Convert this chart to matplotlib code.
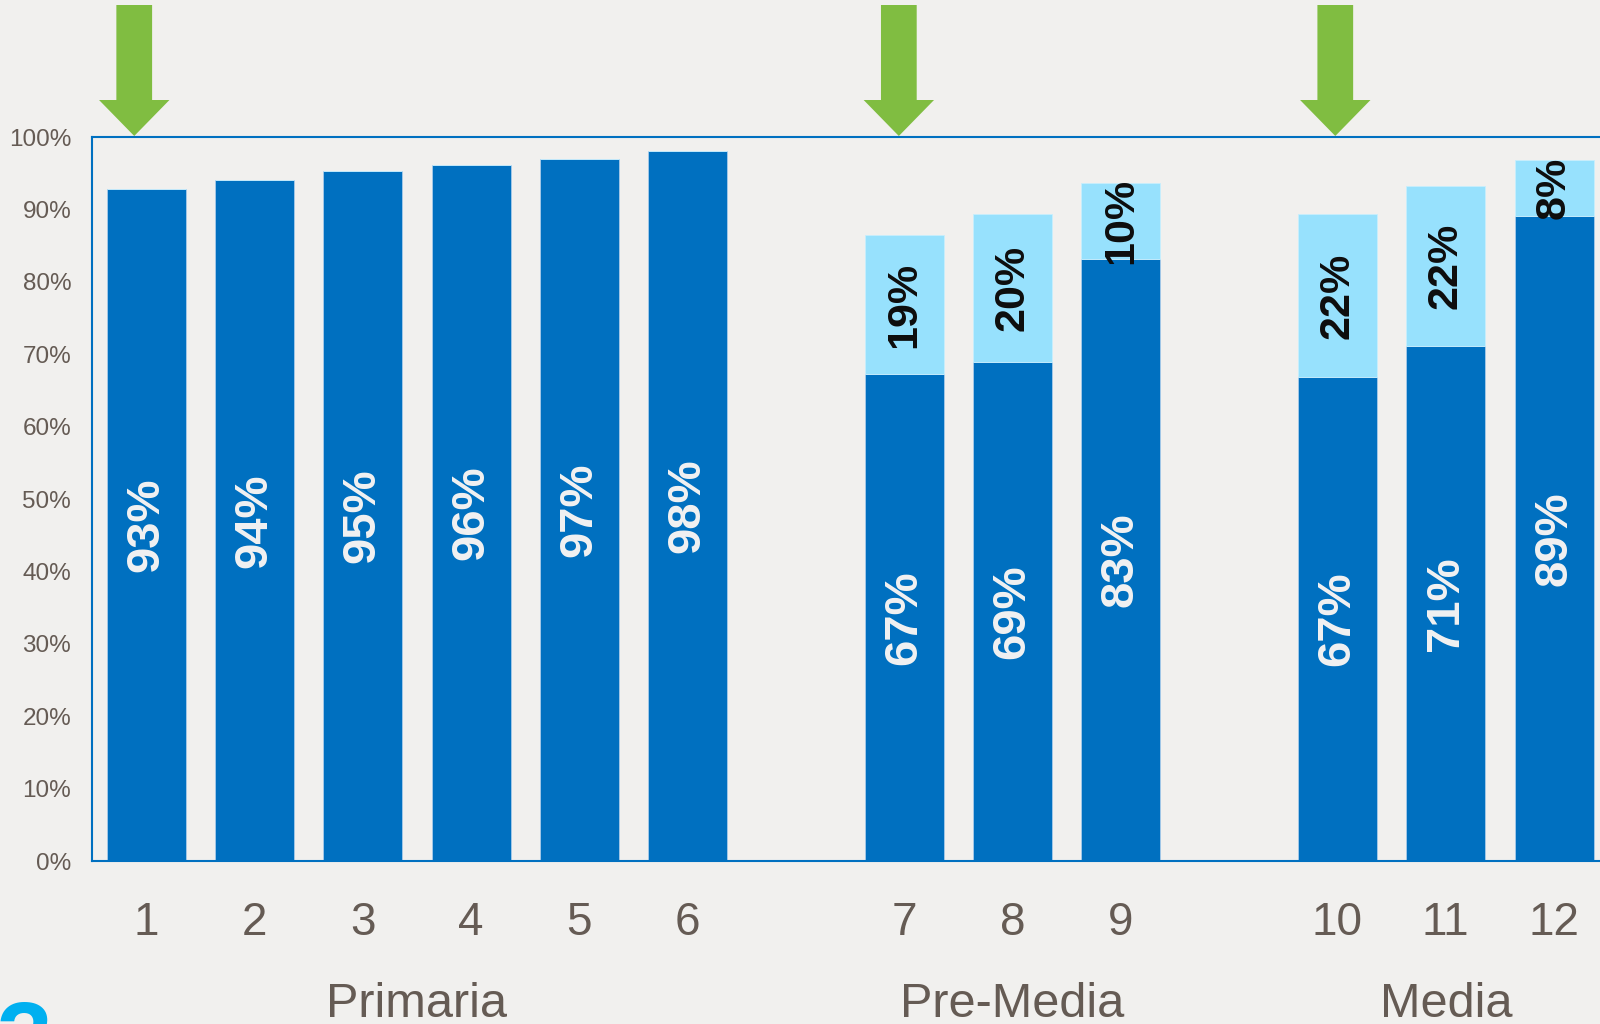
import matplotlib.pyplot as plt
from matplotlib.patches import Polygon
from matplotlib.transforms import blended_transform_factory

plt.rcParams['font.family'] = ['Liberation Sans', 'DejaVu Sans']

# data
categories = ['1', '2', '3', '4', '5', '6', '7', '8', '9', '10', '11', '12']
positions = [0, 1, 2, 3, 4, 5, 7, 8, 9, 11, 12, 13]
base_vals = [92.8, 94.0, 95.3, 96.2, 97.0, 98.1, 67.2, 68.9, 83.2, 66.9, 71.1, 89.1]
extra_vals = [0, 0, 0, 0, 0, 0, 19.3, 20.4, 10.4, 22.4, 22.2, 7.7]
groups = ['Primaria', 'Pre-Media', 'Media']
group_centers = [2.5, 8, 12]
arrow_at = [-0.11, 6.95, 10.98]
y_ticks = [0, 10, 20, 30, 40, 50, 60, 70, 80, 90, 100]

bg = '#F1F0EE'
dark = '#0070C0'
light = '#97E1FD'
txt = '#655B54'

fig = plt.figure(figsize=(16, 10.24), dpi=100, facecolor=bg)
W, H = 1600, 1024
left, right, top, bottom = 92, 92 + 14 * 108.3, 137, 861
ax = fig.add_axes([left / W, 1 - bottom / H, (right - left) / W, (bottom - top) / H])
ax.set_facecolor(bg)

ax.bar(positions, base_vals, width=0.73, color=dark, edgecolor='#A9CBEA', linewidth=0.6)
ax.bar(positions, extra_vals, width=0.73, bottom=base_vals, color=light,
       edgecolor='#C8EEFD', linewidth=0.6)

for x, b, e in zip(positions, base_vals, extra_vals):
    ax.text(x, b / 2, f'{round(b)}%', rotation=90, ha='center', va='center',
            color='#F2F2F2', fontsize=34, fontweight='bold')
    if e > 0:
        ax.text(x, b + e / 2, f'{round(e)}%', rotation=90, ha='center', va='center',
                color='#0D0D0D', fontsize=31, fontweight='bold')

ax.set_xlim(-0.5, 13.5)
ax.set_ylim(0, 100)
ax.set_yticks(y_ticks)
ax.set_yticklabels([f'{v}%' for v in y_ticks])
ax.set_xticks(positions)
ax.set_xticklabels(categories)
ax.tick_params(axis='y', length=0, pad=15, labelsize=17.5, labelcolor=txt)
ax.tick_params(axis='x', length=0, pad=29, labelsize=33, labelcolor=txt)

for s in ['left', 'top', 'bottom', 'right']:
    ax.spines[s].set_color(dark)
    ax.spines[s].set_linewidth(1.5)

# group labels under the tick numbers
tr = blended_transform_factory(ax.transData, fig.transFigure)
for name, c in zip(groups, group_centers):
    ax.text(c, 1 - 1017 / H, name, transform=tr, ha='center', va='baseline',
            fontsize=35, color=txt)

# green arrows above the first bar of each group
for a in arrow_at:
    pts = [(a - 0.165, 1 - 5 / H), (a + 0.165, 1 - 5 / H), (a + 0.165, 1 - 100 / H),
           (a + 0.325, 1 - 100 / H), (a, 1 - 136 / H), (a - 0.325, 1 - 100 / H),
           (a - 0.165, 1 - 100 / H)]
    fig.patches.append(Polygon(pts, closed=True, transform=tr, facecolor='#80BD41',
                               edgecolor='none', clip_on=False))

# cropped slide glyph bottom-left
fig.text(25 / W, 1 - 999 / H, '3', ha='center', va='top', fontsize=72,
         fontweight='bold', color='#00B0F0')

fig.savefig('out.png', dpi=100, facecolor=bg)
